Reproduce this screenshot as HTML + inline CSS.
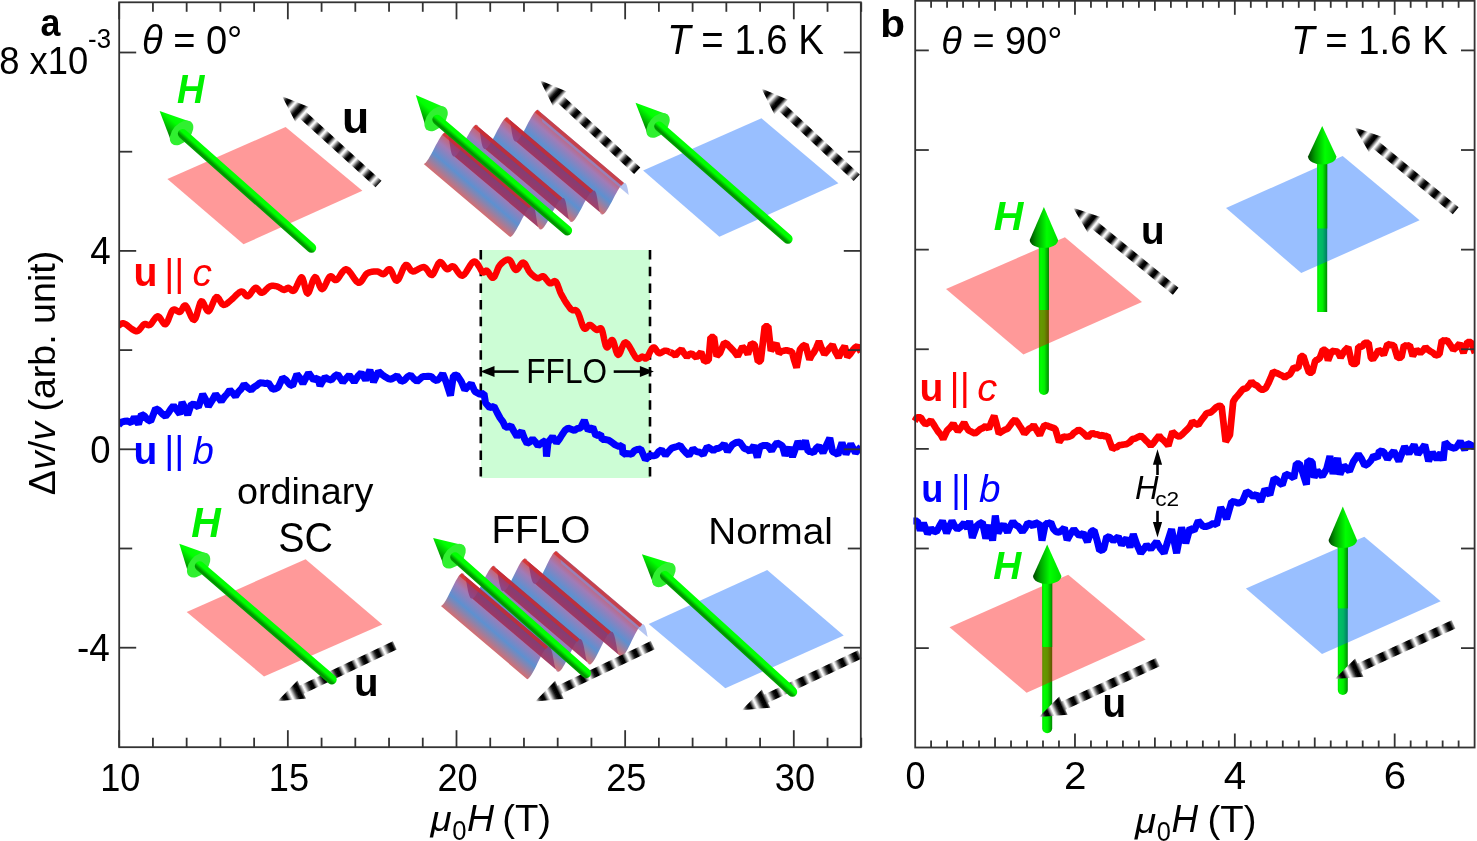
<!DOCTYPE html>
<html><head><meta charset="utf-8"><style>
html,body{margin:0;padding:0;background:#fff;overflow:hidden;}
svg{display:block;font-family:"Liberation Sans", sans-serif;will-change:transform;}
</style></head><body>
<svg width="1477" height="841" viewBox="0 0 1477 841" font-family='"Liberation Sans", sans-serif'><defs><filter id="soft" x="-10%" y="-10%" width="120%" height="120%"><feGaussianBlur stdDeviation="0.5"/></filter><filter id="soft2" x="-10%" y="-10%" width="120%" height="120%"><feGaussianBlur stdDeviation="0.9"/></filter><linearGradient id="lg1" gradientUnits="userSpaceOnUse" x1="282.10" y1="96.20" x2="292.30" y2="105.49" spreadMethod="repeat"><stop offset="0" stop-color="#fff"/><stop offset="0.08" stop-color="#eee"/><stop offset="0.3" stop-color="#555"/><stop offset="0.45" stop-color="#080808"/><stop offset="0.68" stop-color="#000"/><stop offset="0.88" stop-color="#aaa"/><stop offset="1" stop-color="#fff"/></linearGradient><linearGradient id="lg2" gradientUnits="userSpaceOnUse" x1="243.20" y1="194.01" x2="249.70" y2="186.69" spreadMethod="pad"><stop offset="0" stop-color="#00a800"/><stop offset="0.22" stop-color="#009000"/><stop offset="0.42" stop-color="#00c800"/><stop offset="0.6" stop-color="#00ff00"/><stop offset="1" stop-color="#00ff00"/></linearGradient><linearGradient id="lg3" gradientUnits="userSpaceOnUse" x1="171.98" y1="143.65" x2="191.22" y2="121.95" spreadMethod="pad"><stop offset="0" stop-color="#005a00"/><stop offset="0.3" stop-color="#00b000"/><stop offset="0.6" stop-color="#00ff00"/><stop offset="1" stop-color="#10ff10"/></linearGradient><linearGradient id="lg4" gradientUnits="userSpaceOnUse" x1="423.70" y1="163.90" x2="448.29" y2="134.85" spreadMethod="pad"><stop offset="0" stop-color="rgb(205,85,90)"/><stop offset="0.38" stop-color="rgb(65,125,200)"/><stop offset="0.7" stop-color="rgb(145,100,170)"/><stop offset="1" stop-color="rgb(210,60,60)"/></linearGradient><linearGradient id="lg5" gradientUnits="userSpaceOnUse" x1="454.50" y1="156.40" x2="479.09" y2="127.35" spreadMethod="pad"><stop offset="0" stop-color="rgb(205,85,90)"/><stop offset="0.38" stop-color="rgb(65,125,200)"/><stop offset="0.7" stop-color="rgb(145,100,170)"/><stop offset="1" stop-color="rgb(210,60,60)"/></linearGradient><linearGradient id="lg6" gradientUnits="userSpaceOnUse" x1="485.30" y1="148.90" x2="509.89" y2="119.85" spreadMethod="pad"><stop offset="0" stop-color="rgb(205,85,90)"/><stop offset="0.38" stop-color="rgb(65,125,200)"/><stop offset="0.7" stop-color="rgb(145,100,170)"/><stop offset="1" stop-color="rgb(210,60,60)"/></linearGradient><linearGradient id="lg7" gradientUnits="userSpaceOnUse" x1="516.10" y1="141.40" x2="540.69" y2="112.35" spreadMethod="pad"><stop offset="0" stop-color="rgb(205,85,90)"/><stop offset="0.38" stop-color="rgb(65,125,200)"/><stop offset="0.7" stop-color="rgb(145,100,170)"/><stop offset="1" stop-color="rgb(210,60,60)"/></linearGradient><linearGradient id="lg8" gradientUnits="userSpaceOnUse" x1="540.00" y1="80.30" x2="550.11" y2="89.70" spreadMethod="repeat"><stop offset="0" stop-color="#fff"/><stop offset="0.08" stop-color="#eee"/><stop offset="0.3" stop-color="#555"/><stop offset="0.45" stop-color="#080808"/><stop offset="0.68" stop-color="#000"/><stop offset="0.88" stop-color="#aaa"/><stop offset="1" stop-color="#fff"/></linearGradient><linearGradient id="lg9" gradientUnits="userSpaceOnUse" x1="498.47" y1="178.33" x2="504.83" y2="170.87" spreadMethod="pad"><stop offset="0" stop-color="#00a800"/><stop offset="0.22" stop-color="#009000"/><stop offset="0.42" stop-color="#00c800"/><stop offset="0.6" stop-color="#00ff00"/><stop offset="1" stop-color="#00ff00"/></linearGradient><linearGradient id="lg10" gradientUnits="userSpaceOnUse" x1="426.69" y1="129.73" x2="445.51" y2="107.67" spreadMethod="pad"><stop offset="0" stop-color="#005a00"/><stop offset="0.3" stop-color="#00b000"/><stop offset="0.6" stop-color="#00ff00"/><stop offset="1" stop-color="#10ff10"/></linearGradient><linearGradient id="lg11" gradientUnits="userSpaceOnUse" x1="761.50" y1="88.50" x2="771.57" y2="97.94" spreadMethod="repeat"><stop offset="0" stop-color="#fff"/><stop offset="0.08" stop-color="#eee"/><stop offset="0.3" stop-color="#555"/><stop offset="0.45" stop-color="#080808"/><stop offset="0.68" stop-color="#000"/><stop offset="0.88" stop-color="#aaa"/><stop offset="1" stop-color="#fff"/></linearGradient><linearGradient id="lg12" gradientUnits="userSpaceOnUse" x1="719.62" y1="185.84" x2="726.08" y2="178.46" spreadMethod="pad"><stop offset="0" stop-color="#00a800"/><stop offset="0.22" stop-color="#009000"/><stop offset="0.42" stop-color="#00c800"/><stop offset="0.6" stop-color="#00ff00"/><stop offset="1" stop-color="#00ff00"/></linearGradient><linearGradient id="lg13" gradientUnits="userSpaceOnUse" x1="648.45" y1="136.31" x2="667.55" y2="114.49" spreadMethod="pad"><stop offset="0" stop-color="#005a00"/><stop offset="0.3" stop-color="#00b000"/><stop offset="0.6" stop-color="#00ff00"/><stop offset="1" stop-color="#10ff10"/></linearGradient><linearGradient id="lg14" gradientUnits="userSpaceOnUse" x1="277.40" y1="701.20" x2="290.67" y2="694.88" spreadMethod="repeat"><stop offset="0" stop-color="#fff"/><stop offset="0.08" stop-color="#eee"/><stop offset="0.3" stop-color="#555"/><stop offset="0.45" stop-color="#080808"/><stop offset="0.68" stop-color="#000"/><stop offset="0.88" stop-color="#aaa"/><stop offset="1" stop-color="#fff"/></linearGradient><linearGradient id="lg15" gradientUnits="userSpaceOnUse" x1="262.01" y1="626.02" x2="268.39" y2="618.58" spreadMethod="pad"><stop offset="0" stop-color="#00a800"/><stop offset="0.22" stop-color="#009000"/><stop offset="0.42" stop-color="#00c800"/><stop offset="0.6" stop-color="#00ff00"/><stop offset="1" stop-color="#00ff00"/></linearGradient><linearGradient id="lg16" gradientUnits="userSpaceOnUse" x1="189.15" y1="576.10" x2="208.05" y2="554.10" spreadMethod="pad"><stop offset="0" stop-color="#005a00"/><stop offset="0.3" stop-color="#00b000"/><stop offset="0.6" stop-color="#00ff00"/><stop offset="1" stop-color="#10ff10"/></linearGradient><linearGradient id="lg17" gradientUnits="userSpaceOnUse" x1="440.90" y1="605.90" x2="465.84" y2="576.54" spreadMethod="pad"><stop offset="0" stop-color="rgb(205,85,90)"/><stop offset="0.38" stop-color="rgb(65,125,200)"/><stop offset="0.7" stop-color="rgb(145,100,170)"/><stop offset="1" stop-color="rgb(210,60,60)"/></linearGradient><linearGradient id="lg18" gradientUnits="userSpaceOnUse" x1="472.30" y1="598.50" x2="497.24" y2="569.14" spreadMethod="pad"><stop offset="0" stop-color="rgb(205,85,90)"/><stop offset="0.38" stop-color="rgb(65,125,200)"/><stop offset="0.7" stop-color="rgb(145,100,170)"/><stop offset="1" stop-color="rgb(210,60,60)"/></linearGradient><linearGradient id="lg19" gradientUnits="userSpaceOnUse" x1="503.70" y1="591.10" x2="528.64" y2="561.74" spreadMethod="pad"><stop offset="0" stop-color="rgb(205,85,90)"/><stop offset="0.38" stop-color="rgb(65,125,200)"/><stop offset="0.7" stop-color="rgb(145,100,170)"/><stop offset="1" stop-color="rgb(210,60,60)"/></linearGradient><linearGradient id="lg20" gradientUnits="userSpaceOnUse" x1="535.10" y1="583.70" x2="560.04" y2="554.34" spreadMethod="pad"><stop offset="0" stop-color="rgb(205,85,90)"/><stop offset="0.38" stop-color="rgb(65,125,200)"/><stop offset="0.7" stop-color="rgb(145,100,170)"/><stop offset="1" stop-color="rgb(210,60,60)"/></linearGradient><linearGradient id="lg21" gradientUnits="userSpaceOnUse" x1="535.10" y1="701.40" x2="548.37" y2="695.07" spreadMethod="repeat"><stop offset="0" stop-color="#fff"/><stop offset="0.08" stop-color="#eee"/><stop offset="0.3" stop-color="#555"/><stop offset="0.45" stop-color="#080808"/><stop offset="0.68" stop-color="#000"/><stop offset="0.88" stop-color="#aaa"/><stop offset="1" stop-color="#fff"/></linearGradient><linearGradient id="lg22" gradientUnits="userSpaceOnUse" x1="516.80" y1="618.37" x2="523.30" y2="611.03" spreadMethod="pad"><stop offset="0" stop-color="#00a800"/><stop offset="0.22" stop-color="#009000"/><stop offset="0.42" stop-color="#00c800"/><stop offset="0.6" stop-color="#00ff00"/><stop offset="1" stop-color="#00ff00"/></linearGradient><linearGradient id="lg23" gradientUnits="userSpaceOnUse" x1="444.39" y1="567.05" x2="463.61" y2="545.35" spreadMethod="pad"><stop offset="0" stop-color="#005a00"/><stop offset="0.3" stop-color="#00b000"/><stop offset="0.6" stop-color="#00ff00"/><stop offset="1" stop-color="#10ff10"/></linearGradient><linearGradient id="lg24" gradientUnits="userSpaceOnUse" x1="741.70" y1="710.20" x2="755.00" y2="703.93" spreadMethod="repeat"><stop offset="0" stop-color="#fff"/><stop offset="0.08" stop-color="#eee"/><stop offset="0.3" stop-color="#555"/><stop offset="0.45" stop-color="#080808"/><stop offset="0.68" stop-color="#000"/><stop offset="0.88" stop-color="#aaa"/><stop offset="1" stop-color="#fff"/></linearGradient><linearGradient id="lg25" gradientUnits="userSpaceOnUse" x1="724.75" y1="636.97" x2="731.35" y2="629.73" spreadMethod="pad"><stop offset="0" stop-color="#00a800"/><stop offset="0.22" stop-color="#009000"/><stop offset="0.42" stop-color="#00c800"/><stop offset="0.6" stop-color="#00ff00"/><stop offset="1" stop-color="#00ff00"/></linearGradient><linearGradient id="lg26" gradientUnits="userSpaceOnUse" x1="654.03" y1="585.52" x2="673.57" y2="564.08" spreadMethod="pad"><stop offset="0" stop-color="#005a00"/><stop offset="0.3" stop-color="#00b000"/><stop offset="0.6" stop-color="#00ff00"/><stop offset="1" stop-color="#10ff10"/></linearGradient><linearGradient id="lg27" gradientUnits="userSpaceOnUse" x1="1038.90" y1="0.00" x2="1048.90" y2="0.00" spreadMethod="pad"><stop offset="0" stop-color="#00e000"/><stop offset="0.2" stop-color="#00ff00"/><stop offset="0.55" stop-color="#00ee00"/><stop offset="1" stop-color="#008800"/></linearGradient><linearGradient id="lg28" gradientUnits="userSpaceOnUse" x1="1038.90" y1="0.00" x2="1048.90" y2="0.00" spreadMethod="pad"><stop offset="0" stop-color="#00e000"/><stop offset="0.2" stop-color="#00ff00"/><stop offset="0.55" stop-color="#00ee00"/><stop offset="1" stop-color="#008800"/></linearGradient><linearGradient id="lg29" gradientUnits="userSpaceOnUse" x1="1029.70" y1="0.00" x2="1058.10" y2="0.00" spreadMethod="pad"><stop offset="0" stop-color="#004400"/><stop offset="0.25" stop-color="#00a000"/><stop offset="0.6" stop-color="#00ff00"/><stop offset="1" stop-color="#00dd00"/></linearGradient><linearGradient id="lg30" gradientUnits="userSpaceOnUse" x1="1073.10" y1="207.80" x2="1083.81" y2="216.50" spreadMethod="repeat"><stop offset="0" stop-color="#fff"/><stop offset="0.08" stop-color="#eee"/><stop offset="0.3" stop-color="#555"/><stop offset="0.45" stop-color="#080808"/><stop offset="0.68" stop-color="#000"/><stop offset="0.88" stop-color="#aaa"/><stop offset="1" stop-color="#fff"/></linearGradient><linearGradient id="lg31" gradientUnits="userSpaceOnUse" x1="1317.20" y1="0.00" x2="1327.20" y2="0.00" spreadMethod="pad"><stop offset="0" stop-color="#00e000"/><stop offset="0.2" stop-color="#00ff00"/><stop offset="0.55" stop-color="#00ee00"/><stop offset="1" stop-color="#008800"/></linearGradient><linearGradient id="lg32" gradientUnits="userSpaceOnUse" x1="1317.20" y1="0.00" x2="1327.20" y2="0.00" spreadMethod="pad"><stop offset="0" stop-color="#00e000"/><stop offset="0.2" stop-color="#00ff00"/><stop offset="0.55" stop-color="#00ee00"/><stop offset="1" stop-color="#008800"/></linearGradient><linearGradient id="lg33" gradientUnits="userSpaceOnUse" x1="1308.00" y1="0.00" x2="1336.40" y2="0.00" spreadMethod="pad"><stop offset="0" stop-color="#004400"/><stop offset="0.25" stop-color="#00a000"/><stop offset="0.6" stop-color="#00ff00"/><stop offset="1" stop-color="#00dd00"/></linearGradient><linearGradient id="lg34" gradientUnits="userSpaceOnUse" x1="1354.50" y1="127.30" x2="1365.15" y2="136.08" spreadMethod="repeat"><stop offset="0" stop-color="#fff"/><stop offset="0.08" stop-color="#eee"/><stop offset="0.3" stop-color="#555"/><stop offset="0.45" stop-color="#080808"/><stop offset="0.68" stop-color="#000"/><stop offset="0.88" stop-color="#aaa"/><stop offset="1" stop-color="#fff"/></linearGradient><linearGradient id="lg35" gradientUnits="userSpaceOnUse" x1="1042.20" y1="0.00" x2="1052.20" y2="0.00" spreadMethod="pad"><stop offset="0" stop-color="#00e000"/><stop offset="0.2" stop-color="#00ff00"/><stop offset="0.55" stop-color="#00ee00"/><stop offset="1" stop-color="#008800"/></linearGradient><linearGradient id="lg36" gradientUnits="userSpaceOnUse" x1="1042.20" y1="0.00" x2="1052.20" y2="0.00" spreadMethod="pad"><stop offset="0" stop-color="#00e000"/><stop offset="0.2" stop-color="#00ff00"/><stop offset="0.55" stop-color="#00ee00"/><stop offset="1" stop-color="#008800"/></linearGradient><linearGradient id="lg37" gradientUnits="userSpaceOnUse" x1="1033.00" y1="0.00" x2="1061.40" y2="0.00" spreadMethod="pad"><stop offset="0" stop-color="#004400"/><stop offset="0.25" stop-color="#00a000"/><stop offset="0.6" stop-color="#00ff00"/><stop offset="1" stop-color="#00dd00"/></linearGradient><linearGradient id="lg38" gradientUnits="userSpaceOnUse" x1="1039.00" y1="716.90" x2="1052.35" y2="710.76" spreadMethod="repeat"><stop offset="0" stop-color="#fff"/><stop offset="0.08" stop-color="#eee"/><stop offset="0.3" stop-color="#555"/><stop offset="0.45" stop-color="#080808"/><stop offset="0.68" stop-color="#000"/><stop offset="0.88" stop-color="#aaa"/><stop offset="1" stop-color="#fff"/></linearGradient><linearGradient id="lg39" gradientUnits="userSpaceOnUse" x1="1337.80" y1="0.00" x2="1347.80" y2="0.00" spreadMethod="pad"><stop offset="0" stop-color="#00e000"/><stop offset="0.2" stop-color="#00ff00"/><stop offset="0.55" stop-color="#00ee00"/><stop offset="1" stop-color="#008800"/></linearGradient><linearGradient id="lg40" gradientUnits="userSpaceOnUse" x1="1337.80" y1="0.00" x2="1347.80" y2="0.00" spreadMethod="pad"><stop offset="0" stop-color="#00e000"/><stop offset="0.2" stop-color="#00ff00"/><stop offset="0.55" stop-color="#00ee00"/><stop offset="1" stop-color="#008800"/></linearGradient><linearGradient id="lg41" gradientUnits="userSpaceOnUse" x1="1328.60" y1="0.00" x2="1357.00" y2="0.00" spreadMethod="pad"><stop offset="0" stop-color="#004400"/><stop offset="0.25" stop-color="#00a000"/><stop offset="0.6" stop-color="#00ff00"/><stop offset="1" stop-color="#00dd00"/></linearGradient><linearGradient id="lg42" gradientUnits="userSpaceOnUse" x1="1334.80" y1="679.00" x2="1348.16" y2="672.86" spreadMethod="repeat"><stop offset="0" stop-color="#fff"/><stop offset="0.08" stop-color="#eee"/><stop offset="0.3" stop-color="#555"/><stop offset="0.45" stop-color="#080808"/><stop offset="0.68" stop-color="#000"/><stop offset="0.88" stop-color="#aaa"/><stop offset="1" stop-color="#fff"/></linearGradient></defs><rect x="0" y="0" width="1477" height="841" fill="#fff"/>
<rect x="481" y="250" width="169" height="228" fill="#ccfdd5"/>
<line x1="480.8" y1="250" x2="480.8" y2="478" stroke="#000" stroke-width="2.6" stroke-dasharray="9.5 7.2"/>
<line x1="650.0" y1="250" x2="650.0" y2="478" stroke="#000" stroke-width="2.6" stroke-dasharray="9.5 7.2"/>
<polygon points="167.4,178.9 285.6,127.1 362.4,190.8 243.5,244.3" fill="rgba(255,0,0,0.4)"/>
<polygon points="282.1,96.2 295.3,121.8 299.0,117.7 375.5,187.3 381.5,180.7 305.1,111.1 308.8,107.0" fill="url(#lg1)" filter="url(#soft)"/>
<polygon points="159.6,111.1 172.0,143.6 191.2,122.0" fill="url(#lg3)"/>
<ellipse cx="181.6" cy="132.8" rx="9.0" ry="14.5" transform="rotate(-138.4 181.6 132.8)" fill="#30f030"/>
<line x1="311.3" y1="247.9" x2="182.7" y2="133.8" stroke="url(#lg2)" stroke-width="9.8" stroke-linecap="round"/>
<polygon points="423.7,163.9 424.7,163.4 425.9,162.4 427.1,160.8 428.4,158.9 429.8,156.5 431.3,153.9 432.9,151.0 434.4,148.0 435.9,145.1 437.5,142.2 439.0,139.5 440.4,137.2 441.7,135.2 442.9,133.7 444.1,132.7 445.1,132.2 531.6,205.4 530.6,205.9 529.4,206.9 528.2,208.4 526.9,210.4 525.5,212.7 524.0,215.4 522.4,218.3 520.9,221.2 519.4,224.2 517.8,227.1 516.3,229.7 514.9,232.1 513.6,234.0 512.4,235.6 511.2,236.6 510.2,237.1" fill="url(#lg4)" fill-opacity="0.85"/>
<polygon points="454.5,156.4 455.5,155.9 456.7,154.9 457.9,153.3 459.2,151.4 460.6,149.0 462.1,146.4 463.7,143.5 465.2,140.5 466.7,137.6 468.3,134.7 469.8,132.0 471.2,129.7 472.5,127.7 473.7,126.2 474.9,125.2 475.9,124.7 562.4,197.9 561.4,198.4 560.2,199.4 559.0,200.9 557.7,202.9 556.3,205.2 554.8,207.9 553.2,210.8 551.7,213.7 550.2,216.7 548.6,219.6 547.1,222.2 545.7,224.6 544.4,226.5 543.2,228.1 542.0,229.1 541.0,229.6" fill="url(#lg5)" fill-opacity="0.85"/>
<polygon points="485.3,148.9 486.3,148.4 487.5,147.4 488.7,145.8 490.0,143.9 491.4,141.5 492.9,138.9 494.5,136.0 496.0,133.0 497.5,130.1 499.1,127.2 500.6,124.5 502.0,122.2 503.3,120.2 504.5,118.7 505.7,117.7 506.7,117.2 593.2,190.4 592.2,190.9 591.0,191.9 589.8,193.4 588.5,195.4 587.1,197.7 585.6,200.4 584.0,203.3 582.5,206.2 581.0,209.2 579.4,212.1 577.9,214.7 576.5,217.1 575.2,219.0 574.0,220.6 572.8,221.6 571.8,222.1" fill="url(#lg6)" fill-opacity="0.85"/>
<polygon points="516.1,141.4 517.1,140.9 518.3,139.9 519.5,138.3 520.8,136.4 522.2,134.0 523.7,131.4 525.3,128.5 526.8,125.5 528.3,122.6 529.9,119.7 531.4,117.0 532.8,114.7 534.1,112.7 535.3,111.2 536.5,110.2 537.5,109.7 624.0,182.9 623.0,183.4 621.8,184.4 620.6,185.9 619.3,187.9 617.9,190.2 616.4,192.9 614.8,195.8 613.3,198.7 611.8,201.7 610.2,204.6 608.7,207.2 607.3,209.6 606.0,211.5 604.8,213.1 603.6,214.1 602.6,214.6" fill="url(#lg7)" fill-opacity="0.85"/>
<polygon points="445.1,132.2 446.0,132.2 446.8,132.7 447.5,133.8 448.1,135.3 448.6,137.2 449.0,139.4 449.4,141.8 449.8,144.3 450.2,146.8 450.6,149.2 451.0,151.3 451.5,153.2 452.1,154.7 452.8,155.8 453.6,156.4 454.5,156.4 541.0,229.6 540.1,229.6 539.3,229.0 538.6,227.9 538.0,226.4 537.5,224.5 537.1,222.4 536.7,220.0 536.3,217.5 535.9,215.0 535.5,212.6 535.1,210.4 534.6,208.5 534.0,207.0 533.3,205.9 532.5,205.4 531.6,205.4" fill="rgb(125,25,95)" fill-opacity="0.55"/>
<polygon points="475.9,124.7 476.8,124.7 477.6,125.2 478.3,126.3 478.9,127.8 479.4,129.7 479.8,131.9 480.2,134.3 480.6,136.8 481.0,139.3 481.4,141.7 481.8,143.8 482.3,145.7 482.9,147.2 483.6,148.3 484.4,148.9 485.3,148.9 571.8,222.1 570.9,222.1 570.1,221.5 569.4,220.4 568.8,218.9 568.3,217.0 567.9,214.9 567.5,212.5 567.1,210.0 566.7,207.5 566.3,205.1 565.9,202.9 565.4,201.0 564.8,199.5 564.1,198.4 563.3,197.9 562.4,197.9" fill="rgb(125,25,95)" fill-opacity="0.55"/>
<polygon points="506.7,117.2 507.6,117.2 508.4,117.7 509.1,118.8 509.7,120.3 510.2,122.2 510.6,124.4 511.0,126.8 511.4,129.3 511.8,131.8 512.2,134.2 512.6,136.3 513.1,138.2 513.7,139.7 514.4,140.8 515.2,141.4 516.1,141.4 602.6,214.6 601.7,214.6 600.9,214.0 600.2,212.9 599.6,211.4 599.1,209.5 598.7,207.4 598.3,205.0 597.9,202.5 597.5,200.0 597.1,197.6 596.7,195.4 596.2,193.5 595.6,192.0 594.9,190.9 594.1,190.4 593.2,190.4" fill="rgb(125,25,95)" fill-opacity="0.55"/>
<polygon points="537.5,109.7 538.0,109.6 538.4,109.7 538.8,109.9 539.2,110.2 539.6,110.7 539.9,111.3 540.2,112.0 540.5,112.8 540.7,113.7 541.0,114.7 541.2,115.8 541.4,116.9 541.6,118.1 541.8,119.3 542.0,120.5 542.2,121.8 628.7,195.0 628.5,193.7 628.3,192.5 628.1,191.3 627.9,190.1 627.7,189.0 627.5,187.9 627.2,186.9 627.0,186.0 626.7,185.2 626.4,184.5 626.1,183.9 625.7,183.4 625.3,183.1 624.9,182.9 624.5,182.8 624.0,182.9" fill="rgb(120,150,230)" fill-opacity="0.55"/>
<line x1="443.8" y1="133.7" x2="530.3" y2="206.9" stroke="rgb(215,40,35)" stroke-opacity="0.7" stroke-width="3.6"/>
<line x1="474.6" y1="126.2" x2="561.1" y2="199.4" stroke="rgb(215,40,35)" stroke-opacity="0.7" stroke-width="3.6"/>
<line x1="505.4" y1="118.7" x2="591.9" y2="191.9" stroke="rgb(215,40,35)" stroke-opacity="0.7" stroke-width="3.6"/>
<line x1="536.2" y1="111.2" x2="622.7" y2="184.4" stroke="rgb(215,40,35)" stroke-opacity="0.7" stroke-width="3.6"/>
<polygon points="540.0,80.3 553.0,106.0 556.7,102.0 634.1,174.0 640.3,167.4 562.8,95.4 566.6,91.4" fill="url(#lg8)" filter="url(#soft)"/>
<polygon points="415.8,95.0 426.7,129.7 445.5,107.7" fill="url(#lg10)"/>
<ellipse cx="436.1" cy="118.7" rx="9.0" ry="14.5" transform="rotate(-139.5 436.1 118.7)" fill="#30f030"/>
<line x1="567.2" y1="230.5" x2="437.2" y2="119.7" stroke="url(#lg9)" stroke-width="9.8" stroke-linecap="round"/>
<polygon points="643.1,170.6 761.5,118.3 838.4,183.2 719.4,236.7" fill="rgba(0,95,255,0.4)"/>
<polygon points="761.5,88.5 774.4,114.3 778.1,110.2 853.6,181.0 859.8,174.4 784.3,103.7 788.0,99.7" fill="url(#lg11)" filter="url(#soft)"/>
<polygon points="635.5,102.8 648.5,136.3 667.5,114.5" fill="url(#lg13)"/>
<ellipse cx="658.0" cy="125.4" rx="9.0" ry="14.5" transform="rotate(-138.8 658.0 125.4)" fill="#30f030"/>
<line x1="787.7" y1="238.9" x2="659.1" y2="126.4" stroke="url(#lg12)" stroke-width="9.8" stroke-linecap="round"/>
<polygon points="186.7,612.0 305.6,559.2 382.3,624.5 264.0,676.5" fill="rgba(255,0,0,0.4)"/>
<polygon points="277.4,701.2 306.1,698.6 303.7,693.7 396.7,649.4 392.9,641.2 299.8,685.5 297.5,680.6" fill="url(#lg14)" filter="url(#soft)"/>
<polygon points="179.3,543.7 189.2,576.1 208.0,554.1" fill="url(#lg16)"/>
<ellipse cx="198.6" cy="565.1" rx="9.0" ry="14.5" transform="rotate(-139.3 198.6 565.1)" fill="#30f030"/>
<line x1="331.8" y1="679.5" x2="199.7" y2="566.1" stroke="url(#lg15)" stroke-width="9.8" stroke-linecap="round"/>
<polygon points="440.9,605.9 441.9,605.4 443.1,604.3 444.3,602.8 445.6,600.7 447.0,598.3 448.4,595.6 449.9,592.6 451.4,589.5 452.9,586.5 454.4,583.5 455.8,580.8 457.2,578.4 458.5,576.3 459.7,574.8 460.9,573.7 461.9,573.2 548.2,646.5 547.2,647.0 546.0,648.1 544.8,649.6 543.5,651.7 542.1,654.1 540.7,656.8 539.2,659.8 537.7,662.8 536.2,665.9 534.7,668.9 533.3,671.6 531.9,674.0 530.6,676.1 529.4,677.6 528.2,678.7 527.2,679.2" fill="url(#lg17)" fill-opacity="0.85"/>
<polygon points="472.3,598.5 473.3,598.0 474.5,596.9 475.7,595.4 477.0,593.3 478.4,590.9 479.8,588.2 481.3,585.2 482.8,582.1 484.3,579.1 485.8,576.1 487.2,573.4 488.6,571.0 489.9,568.9 491.1,567.4 492.3,566.3 493.3,565.8 579.6,639.1 578.6,639.6 577.4,640.7 576.2,642.2 574.9,644.3 573.5,646.7 572.1,649.4 570.6,652.4 569.1,655.4 567.6,658.5 566.1,661.5 564.7,664.2 563.3,666.6 562.0,668.7 560.8,670.2 559.6,671.3 558.6,671.8" fill="url(#lg18)" fill-opacity="0.85"/>
<polygon points="503.7,591.1 504.7,590.6 505.9,589.5 507.1,588.0 508.4,585.9 509.8,583.5 511.2,580.8 512.7,577.8 514.2,574.8 515.7,571.7 517.2,568.7 518.6,566.0 520.0,563.6 521.3,561.5 522.5,560.0 523.7,558.9 524.7,558.4 611.0,631.7 610.0,632.2 608.8,633.3 607.6,634.8 606.3,636.9 604.9,639.3 603.5,642.0 602.0,645.0 600.5,648.0 599.0,651.1 597.5,654.1 596.1,656.8 594.7,659.2 593.4,661.3 592.2,662.8 591.0,663.9 590.0,664.4" fill="url(#lg19)" fill-opacity="0.85"/>
<polygon points="535.1,583.7 536.1,583.2 537.3,582.1 538.5,580.6 539.8,578.5 541.2,576.1 542.6,573.4 544.1,570.4 545.6,567.4 547.1,564.3 548.6,561.3 550.0,558.6 551.4,556.2 552.7,554.1 553.9,552.6 555.1,551.5 556.1,551.0 642.4,624.3 641.4,624.8 640.2,625.9 639.0,627.4 637.7,629.5 636.3,631.9 634.9,634.6 633.4,637.6 631.9,640.6 630.4,643.7 628.9,646.7 627.5,649.4 626.1,651.8 624.8,653.9 623.6,655.4 622.4,656.5 621.4,657.0" fill="url(#lg20)" fill-opacity="0.85"/>
<polygon points="461.9,573.2 462.8,573.2 463.7,573.8 464.4,574.9 465.0,576.5 465.6,578.5 466.2,580.8 466.6,583.3 467.1,585.9 467.6,588.4 468.0,590.9 468.6,593.2 469.2,595.2 469.8,596.8 470.5,597.9 471.4,598.5 472.3,598.5 558.6,671.8 557.7,671.8 556.8,671.2 556.1,670.1 555.5,668.5 554.9,666.5 554.3,664.2 553.9,661.7 553.4,659.1 552.9,656.6 552.5,654.1 551.9,651.8 551.3,649.8 550.7,648.2 550.0,647.1 549.1,646.5 548.2,646.5" fill="rgb(125,25,95)" fill-opacity="0.55"/>
<polygon points="493.3,565.8 494.2,565.8 495.1,566.4 495.8,567.5 496.4,569.1 497.0,571.1 497.6,573.4 498.0,575.9 498.5,578.4 499.0,581.0 499.4,583.5 500.0,585.8 500.6,587.8 501.2,589.4 501.9,590.5 502.8,591.1 503.7,591.1 590.0,664.4 589.1,664.4 588.2,663.8 587.5,662.7 586.9,661.1 586.3,659.1 585.7,656.8 585.3,654.3 584.8,651.7 584.3,649.2 583.9,646.7 583.3,644.4 582.7,642.4 582.1,640.8 581.4,639.7 580.5,639.1 579.6,639.1" fill="rgb(125,25,95)" fill-opacity="0.55"/>
<polygon points="524.7,558.4 525.6,558.4 526.5,559.0 527.2,560.1 527.8,561.7 528.4,563.7 529.0,566.0 529.4,568.5 529.9,571.0 530.4,573.6 530.8,576.1 531.4,578.4 532.0,580.4 532.6,582.0 533.3,583.1 534.2,583.7 535.1,583.7 621.4,657.0 620.5,657.0 619.6,656.4 618.9,655.3 618.3,653.7 617.7,651.7 617.1,649.4 616.7,646.9 616.2,644.3 615.7,641.8 615.3,639.3 614.7,637.0 614.1,635.0 613.5,633.4 612.8,632.3 611.9,631.7 611.0,631.7" fill="rgb(125,25,95)" fill-opacity="0.55"/>
<polygon points="556.1,551.0 556.6,551.0 557.0,551.0 557.5,551.3 557.9,551.6 558.2,552.1 558.6,552.7 558.9,553.5 559.2,554.3 559.5,555.3 559.8,556.3 560.1,557.4 560.4,558.6 560.6,559.8 560.8,561.1 561.1,562.3 561.3,563.6 647.6,636.9 647.4,635.6 647.1,634.4 646.9,633.1 646.7,631.9 646.4,630.7 646.1,629.6 645.8,628.6 645.5,627.6 645.2,626.8 644.9,626.0 644.5,625.4 644.2,624.9 643.8,624.6 643.3,624.3 642.9,624.3 642.4,624.3" fill="rgb(120,150,230)" fill-opacity="0.55"/>
<line x1="460.6" y1="574.7" x2="546.9" y2="648.0" stroke="rgb(215,40,35)" stroke-opacity="0.7" stroke-width="3.6"/>
<line x1="492.0" y1="567.3" x2="578.3" y2="640.6" stroke="rgb(215,40,35)" stroke-opacity="0.7" stroke-width="3.6"/>
<line x1="523.4" y1="559.9" x2="609.7" y2="633.2" stroke="rgb(215,40,35)" stroke-opacity="0.7" stroke-width="3.6"/>
<line x1="554.8" y1="552.5" x2="641.1" y2="625.8" stroke="rgb(215,40,35)" stroke-opacity="0.7" stroke-width="3.6"/>
<polygon points="535.1,701.4 563.8,698.8 561.4,693.8 654.7,649.3 650.9,641.1 557.5,685.7 555.2,680.7" fill="url(#lg21)" filter="url(#soft)"/>
<polygon points="433.1,537.9 444.4,567.1 463.6,545.3" fill="url(#lg23)"/>
<ellipse cx="454.0" cy="556.2" rx="9.0" ry="14.5" transform="rotate(-138.5 454.0 556.2)" fill="#30f030"/>
<line x1="586.1" y1="673.2" x2="455.1" y2="557.2" stroke="url(#lg22)" stroke-width="9.8" stroke-linecap="round"/>
<polygon points="648.7,624.0 767.2,570.1 843.7,635.5 725.3,688.3" fill="rgba(0,95,255,0.4)"/>
<polygon points="741.7,710.2 770.4,707.7 768.0,702.8 861.9,658.5 858.1,650.3 764.2,694.6 761.9,689.6" fill="url(#lg24)" filter="url(#soft)"/>
<polygon points="641.9,554.3 654.0,585.5 673.6,564.1" fill="url(#lg26)"/>
<ellipse cx="663.8" cy="574.8" rx="9.0" ry="14.5" transform="rotate(-137.7 663.8 574.8)" fill="#30f030"/>
<line x1="792.3" y1="691.9" x2="664.9" y2="575.8" stroke="url(#lg25)" stroke-width="9.8" stroke-linecap="round"/>
<line x1="1043.9" y1="240.0" x2="1043.9" y2="390.0" stroke="url(#lg27)" stroke-width="10.0" stroke-linecap="round"/>
<polygon points="946.0,289.0 1064.9,237.3 1142.0,302.1 1023.4,354.6" fill="rgba(255,0,0,0.4)"/>
<line x1="1043.9" y1="240.0" x2="1043.9" y2="310.0" stroke="url(#lg28)" stroke-width="10.0"/>
<path d="M1043.9,207.0 L1058.1,240.0 A14.2,8.0 0 0 1 1029.7,240.0 Z" fill="url(#lg29)"/>
<polygon points="1073.1,207.8 1087.7,232.6 1091.2,228.3 1172.9,294.7 1178.5,287.7 1096.9,221.3 1100.4,217.1" fill="url(#lg30)" filter="url(#soft)"/>
<line x1="1322.2" y1="156.5" x2="1322.2" y2="312.0" stroke="url(#lg31)" stroke-width="10.0" stroke-linecap="butt"/>
<polygon points="1226.0,208.0 1342.7,156.1 1419.6,220.3 1301.2,273.1" fill="rgba(0,95,255,0.4)"/>
<line x1="1322.2" y1="156.5" x2="1322.2" y2="228.5" stroke="url(#lg32)" stroke-width="10.0"/>
<path d="M1322.2,126.0 L1336.4,156.5 A14.2,8.0 0 0 1 1308.0,156.5 Z" fill="url(#lg33)"/>
<polygon points="1354.5,127.3 1369.0,152.2 1372.5,147.9 1452.8,214.2 1458.6,207.2 1378.2,141.0 1381.7,136.8" fill="url(#lg34)" filter="url(#soft)"/>
<line x1="1047.2" y1="576.0" x2="1047.2" y2="728.3" stroke="url(#lg35)" stroke-width="10.0" stroke-linecap="round"/>
<polygon points="949.5,627.2 1068.2,574.7 1145.6,639.5 1026.6,692.8" fill="rgba(255,0,0,0.4)"/>
<line x1="1047.2" y1="576.0" x2="1047.2" y2="647.0" stroke="url(#lg36)" stroke-width="10.0"/>
<path d="M1047.2,544.6 L1061.4,576.0 A14.2,8.0 0 0 1 1033.0,576.0 Z" fill="url(#lg37)"/>
<polygon points="1039.0,716.9 1067.7,714.7 1065.4,709.7 1159.8,666.3 1156.0,658.1 1061.6,701.5 1059.3,696.5" fill="url(#lg38)" filter="url(#soft)"/>
<line x1="1342.8" y1="540.0" x2="1342.8" y2="690.0" stroke="url(#lg39)" stroke-width="10.0" stroke-linecap="round"/>
<polygon points="1245.9,588.5 1364.3,536.8 1440.7,601.3 1322.0,654.0" fill="rgba(0,95,255,0.4)"/>
<line x1="1342.8" y1="540.0" x2="1342.8" y2="608.4" stroke="url(#lg40)" stroke-width="10.0"/>
<path d="M1342.8,506.6 L1357.0,540.0 A14.2,8.0 0 0 1 1328.6,540.0 Z" fill="url(#lg41)"/>
<polygon points="1334.8,679.0 1363.5,676.8 1361.2,671.8 1455.5,628.5 1451.7,620.3 1357.5,663.6 1355.2,658.6" fill="url(#lg42)" filter="url(#soft)"/>
<clipPath id="cpa"><rect x="119" y="0" width="742" height="760"/></clipPath>
<clipPath id="cpb"><rect x="912" y="0" width="563" height="760"/></clipPath>
<g clip-path="url(#cpa)">
<polyline points="118.6,325.6 119.1,325.3 119.8,324.7 120.7,324.1 121.7,323.5 122.9,323.3 124.3,323.5 126.0,324.4 128.0,325.9 130.2,327.7 132.4,329.4 134.6,330.7 136.4,331.3 138.0,330.9 139.4,329.7 140.7,328.2 141.9,326.5 143.1,325.1 144.2,324.2 145.3,324.0 146.2,324.2 147.1,324.6 148.0,325.1 148.9,325.2 150.0,324.9 151.2,323.8 152.5,322.1 153.8,320.1 155.1,318.3 156.5,316.9 157.8,316.3 159.1,316.9 160.4,318.5 161.7,320.6 163.0,322.6 164.3,324.0 165.6,324.2 166.8,322.9 168.0,320.5 169.2,317.4 170.4,314.3 171.6,311.6 172.8,309.9 174.0,309.4 175.2,309.7 176.4,310.5 177.6,311.3 178.8,312.0 179.9,312.0 180.9,311.2 181.8,309.7 182.7,308.0 183.5,306.5 184.5,305.6 185.6,305.6 186.9,307.2 188.3,310.1 189.8,313.5 191.3,316.8 192.8,319.2 194.2,319.9 195.5,318.4 196.7,315.1 197.8,310.9 199.0,306.6 200.1,303.1 201.3,301.3 202.5,301.6 203.6,303.4 204.8,306.0 206.0,308.7 207.2,310.7 208.4,311.3 209.7,310.1 211.0,307.5 212.4,304.3 213.7,301.1 215.0,298.5 216.3,297.1 217.5,297.3 218.7,298.5 219.8,300.4 221.0,302.4 222.2,304.1 223.4,304.9 224.6,304.8 225.9,304.3 227.2,303.4 228.5,302.3 229.9,301.1 231.3,299.9 232.9,298.5 234.6,296.8 236.3,295.0 238.1,293.4 239.7,292.1 241.2,291.4 242.5,291.6 243.6,292.5 244.6,293.8 245.6,295.2 246.6,296.1 247.7,296.3 248.9,295.5 250.3,294.0 251.6,292.0 253.0,290.1 254.3,288.6 255.5,287.8 256.6,288.0 257.7,288.9 258.7,290.2 259.7,291.5 260.8,292.5 261.9,292.8 263.1,292.3 264.5,291.3 265.8,289.9 267.2,288.5 268.5,287.2 269.8,286.4 271.0,286.0 272.2,285.8 273.4,285.8 274.6,285.9 275.7,286.1 276.9,286.4 278.1,286.8 279.4,287.5 280.6,288.3 281.8,289.0 283.0,289.6 284.0,289.9 284.9,289.8 285.6,289.4 286.2,288.9 286.9,288.3 287.5,287.9 288.3,287.8 289.2,288.2 290.1,288.9 291.0,289.8 292.0,290.6 293.0,290.9 294.0,290.6 295.1,289.3 296.2,287.2 297.4,284.7 298.5,282.1 299.6,279.9 300.4,278.5 301.0,277.7 301.4,277.3 301.7,277.2 302.0,277.5 302.4,278.1 302.9,279.2 303.6,281.2 304.3,284.1 305.1,287.4 305.9,290.5 306.8,292.7 307.8,293.5 308.9,292.2 310.0,289.3 311.3,285.4 312.5,281.6 313.8,278.5 315.0,277.1 316.2,277.8 317.3,279.9 318.5,282.9 319.7,286.0 320.9,288.3 322.1,289.2 323.4,288.3 324.7,286.2 326.1,283.3 327.4,280.4 328.8,277.9 330.0,276.4 331.1,276.2 332.1,276.9 333.1,278.1 334.1,279.3 335.1,280.0 336.4,280.0 337.8,278.8 339.4,276.6 341.0,274.0 342.8,271.5 344.6,269.8 346.4,269.2 348.3,270.3 350.4,272.8 352.5,275.9 354.7,279.1 356.7,281.6 358.5,282.8 360.1,282.5 361.5,281.1 362.9,279.1 364.2,276.9 365.5,274.9 367.0,273.5 368.6,272.7 370.4,272.1 372.1,271.7 373.9,271.5 375.5,271.4 377.0,271.4 378.3,271.7 379.4,272.3 380.5,273.0 381.5,273.7 382.5,274.1 383.5,274.2 384.6,273.6 385.6,272.5 386.7,271.2 387.7,269.9 388.8,269.2 389.9,269.2 391.0,270.5 392.2,272.8 393.3,275.6 394.5,278.3 395.7,280.2 397.0,280.7 398.4,279.4 399.8,276.7 401.3,273.2 402.8,269.6 404.2,266.7 405.6,265.0 406.8,264.9 407.9,265.9 409.0,267.5 410.1,269.2 411.3,270.7 412.7,271.4 414.4,271.2 416.3,270.3 418.3,269.2 420.4,268.0 422.4,267.2 424.1,267.1 425.6,268.0 427.0,269.6 428.3,271.6 429.5,273.5 430.7,274.7 432.0,275.0 433.3,273.8 434.6,271.5 435.9,268.6 437.3,265.7 438.5,263.3 439.8,262.1 441.0,262.2 442.2,263.4 443.4,265.0 444.6,266.8 445.8,268.4 446.9,269.2 448.0,269.2 449.0,268.6 450.0,267.7 451.1,266.8 452.2,266.3 453.4,266.4 454.8,267.5 456.2,269.5 457.7,271.8 459.3,273.9 460.9,275.4 462.6,275.7 464.4,274.4 466.3,271.8 468.3,268.5 470.3,265.2 472.2,262.6 474.0,261.4 475.6,261.9 477.2,263.6 478.7,265.9 480.2,268.5 481.4,270.7 482.6,272.1 483.5,272.5 484.3,272.2 484.9,271.6 485.5,271.0 486.1,270.6 486.9,270.7 487.8,271.6 488.9,273.2 489.9,275.0 491.1,276.6 492.2,277.7 493.3,277.8 494.4,276.7 495.4,274.7 496.5,272.2 497.6,269.4 498.7,266.9 500.0,265.0 501.4,263.5 502.9,262.1 504.6,260.9 506.2,260.0 507.7,259.6 509.1,259.7 510.3,260.7 511.5,262.6 512.5,265.0 513.6,267.3 514.7,269.1 515.8,270.0 517.0,269.6 518.3,268.2 519.5,266.3 520.8,264.4 522.1,262.9 523.3,262.5 524.5,263.2 525.6,264.7 526.6,266.7 527.7,268.8 528.8,270.9 530.0,272.5 531.2,273.8 532.5,275.0 533.8,276.1 535.1,277.1 536.3,277.8 537.5,278.3 538.6,278.3 539.5,277.9 540.5,277.2 541.4,276.6 542.3,276.2 543.3,276.3 544.4,277.0 545.5,278.3 546.6,279.8 547.8,281.3 548.9,282.5 550.0,283.3 551.0,283.3 552.0,282.8 553.0,282.1 553.9,281.4 554.8,281.1 555.8,281.6 556.7,283.0 557.6,284.9 558.5,287.3 559.4,289.9 560.4,292.6 561.6,295.0 563.0,297.4 564.5,300.1 566.1,302.7 567.8,305.2 569.4,307.4 570.8,309.1 572.0,310.0 573.2,310.3 574.3,310.2 575.3,310.1 576.3,310.5 577.4,311.6 578.5,313.8 579.7,316.9 580.8,320.3 581.9,323.7 583.0,326.5 584.1,328.3 585.1,328.8 586.1,328.3 587.0,327.3 587.9,326.2 588.9,325.2 589.9,324.9 591.0,325.3 592.1,326.2 593.3,327.2 594.5,328.4 595.6,329.3 596.6,329.9 597.5,329.9 598.4,329.4 599.2,328.7 600.0,328.2 600.8,328.2 601.6,329.1 602.4,331.3 603.2,334.7 604.0,338.7 604.9,342.5 605.7,345.6 606.6,347.4 607.5,347.4 608.5,346.0 609.5,343.9 610.4,341.7 611.4,340.1 612.4,339.9 613.3,341.4 614.3,344.3 615.2,347.7 616.1,351.1 617.1,353.7 618.2,354.9 619.3,354.1 620.5,351.7 621.6,348.6 622.9,345.5 624.2,343.2 625.7,342.4 627.4,343.6 629.2,346.2 631.2,349.6 633.1,353.2 634.9,356.2 636.5,358.2 637.8,358.9 638.9,358.8 639.9,358.3 640.7,357.5 641.6,356.9 642.4,356.6 643.2,356.8 643.8,357.4 644.4,358.0 645.0,358.5 645.7,358.6 646.5,358.2 647.5,356.9 648.6,354.9 649.7,352.5 650.9,350.2 652.1,348.4 653.2,347.4 654.2,347.5 655.2,348.4 656.2,349.8 657.1,351.3 658.0,352.5 659.0,353.2 660.0,353.2 661.0,352.8 661.9,352.2 662.9,351.6 663.9,351.0 664.8,350.7 665.8,350.7 666.8,350.9 667.8,351.2 668.7,351.6 669.4,351.9 670.0,352.1" fill="none" stroke="#ff0000" stroke-width="6.5" stroke-linejoin="round" stroke-miterlimit="2" stroke-linecap="butt"/>
<polyline points="670.0,352.1 672.7,353.4 675.4,355.5 678.5,351.8 681.5,349.4 684.2,353.5 686.9,356.9 689.3,354.3 691.7,353.5 694.0,355.6 696.4,357.5 698.8,354.5 701.1,352.1 704.5,361.6 708.6,360.3 710.6,337.2 714.0,337.2 716.7,356.2 720.1,352.8 724.2,342.7 726.9,343.8 729.6,346.7 733.6,350.8 737.7,356.2 740.0,351.5 742.4,346.7 745.1,349.5 747.9,354.2 751.2,343.3 754.6,344.7 758.0,361.6 760.7,360.9 764.8,326.4 768.2,326.4 770.9,350.8 773.6,346.9 776.3,343.3 779.0,353.5 781.4,351.3 783.7,350.8 786.4,350.2 789.2,351.1 791.9,351.5 794.2,360.3 796.6,367.7 800.0,349.4 802.7,346.3 805.4,344.7 809.5,359.6 811.7,355.2 814.0,352.2 816.2,348.1 819.0,341.3 821.7,348.6 824.4,354.2 827.1,351.2 829.8,347.7 832.5,344.7 835.5,352.1 838.6,357.5 841.7,350.8 844.7,346.0 847.4,356.9 850.1,354.2 852.8,350.1 855.1,347.6 857.5,346.0 861.0,352.1" fill="none" stroke="#ff0000" stroke-width="6.8" stroke-linejoin="bevel" stroke-miterlimit="2" stroke-linecap="butt"/>
<polyline points="118.6,424.9 121.4,422.2 124.3,421.3 127.8,421.1 131.4,422.8 134.3,417.0 138.5,424.2 141.4,414.2 144.5,416.1 147.6,419.7 150.7,421.3 155.6,408.5 158.9,410.3 162.3,413.9 165.6,416.3 168.2,413.1 170.9,408.9 173.5,405.6 176.7,410.0 179.9,414.2 182.0,402.1 184.8,407.5 187.7,414.9 191.3,404.2 194.9,404.6 198.4,407.1 202.7,394.2 205.6,399.5 208.4,406.3 212.0,400.7 215.6,394.2 218.4,397.6 221.3,401.4 224.1,397.2 227.0,394.0 229.8,390.0 232.7,393.1 235.5,396.4 238.4,391.9 241.2,389.0 244.1,384.2 247.6,387.6 251.2,390.0 254.1,387.0 256.9,385.4 259.8,382.8 262.6,382.9 265.5,383.7 268.3,382.8 272.6,389.2 275.5,388.7 278.3,387.1 282.6,377.8 285.9,379.9 289.3,384.2 292.6,385.7 296.9,374.3 299.9,378.0 302.9,383.5 305.8,378.0 308.6,372.8 313.6,380.0 317.8,377.8 320.0,385.7 325.0,377.1 328.2,379.2 331.4,380.0 334.6,376.3 337.8,374.3 342.8,382.1 346.0,378.5 349.2,375.0 354.2,382.1 357.8,376.3 361.3,372.8 365.6,380.0 369.9,370.0 373.5,382.1 378.5,371.4 382.1,374.7 385.6,377.1 388.5,378.8 391.3,379.2 394.1,377.6 397.0,375.7 401.3,381.4 404.4,380.2 407.5,376.7 410.6,375.0 413.8,378.7 417.0,381.4 419.9,379.1 422.7,376.4 425.5,376.6 428.4,376.3 431.2,376.4 434.0,379.4 436.9,380.7 439.8,378.2 442.7,373.5 446.2,382.1 450.5,395.6 453.4,375.7 456.9,375.0 461.2,381.4 464.8,389.9 468.0,386.6 471.2,383.5 474.8,391.4 479.7,394.2 484.0,393.5 485.5,402.8 489.7,407.8 494.0,406.3 497.1,412.5 500.1,418.0 502.8,421.6 505.5,427.3 508.2,427.0 510.9,425.7 514.0,431.5 517.1,436.6 521.7,431.1 524.4,438.5 527.1,443.5 529.9,442.0 532.6,438.9 535.3,441.8 538.0,445.8 541.9,442.8 545.7,440.4 546.5,456.6 548.0,442.7 552.6,436.6 556.5,442.7 559.2,439.3 561.9,435.0 565.0,430.4 568.1,428.1 571.2,429.2 574.3,430.4 577.4,428.5 580.5,428.1 584.3,420.3 588.2,430.4 592.8,427.3 595.9,435.8 600.6,434.2 602.1,439.6 605.2,439.5 608.3,440.1 611.4,442.0 615.2,444.9 619.1,446.6 622.2,445.1 623.0,454.3 625.8,453.4 628.7,453.7 631.5,454.3 634.6,450.5 637.7,449.4 640.7,448.9 645.4,459.7 650.0,455.1 653.1,456.0 656.2,455.1 658.9,451.4 661.6,449.7 665.5,455.1 668.6,451.5 671.7,448.1 674.1,447.4 677.2,446.5 680.2,445.4 683.1,449.7 686.1,452.9 689.0,455.5 693.0,448.7 696.4,451.6 699.8,452.2 703.2,454.8 707.2,446.7 710.2,448.5 713.3,450.8 716.0,448.8 718.8,448.3 721.5,446.8 724.2,444.0 727.5,451.5 732.3,444.7 736.0,442.5 739.7,442.0 744.5,448.7 747.2,449.3 749.9,451.5 754.0,445.4 757.3,457.5 760.0,446.7 763.8,445.4 767.5,445.4 771.6,450.8 774.3,446.1 777.0,442.7 779.7,444.3 782.4,446.0 785.1,455.5 789.2,447.4 792.5,456.9 795.2,449.3 798.0,441.3 802.0,448.7 805.4,440.6 808.1,451.5 810.8,451.6 813.5,452.8 816.2,448.2 819.0,446.0 823.0,452.8 826.4,445.2 829.8,437.9 832.5,451.5 835.2,452.8 837.9,454.8 842.0,442.7 846.0,454.2 850.8,444.0 855.5,452.8 858.2,449.9 861.0,446.7" fill="none" stroke="#0000ff" stroke-width="7.0" stroke-linejoin="bevel" stroke-miterlimit="2" stroke-linecap="butt"/>
</g><g clip-path="url(#cpb)">
<polyline points="914.6,421.2 917.0,417.3 920.8,417.3 923.1,421.5 925.5,424.3 928.2,422.7 930.9,420.4 933.4,424.1 935.8,428.0 938.3,431.8 940.7,434.6 943.2,439.0 947.1,430.5 950.2,427.6 953.3,423.5 955.6,427.8 957.9,431.2 961.0,427.5 964.1,422.7 966.4,427.1 968.7,430.5 971.8,431.9 974.9,433.6 977.6,431.5 980.3,429.1 983.0,428.0 985.7,425.8 988.8,428.9 991.5,421.6 994.2,415.8 996.5,424.0 998.9,433.6 1001.7,431.6 1004.6,429.9 1007.4,428.9 1010.0,425.5 1012.5,422.0 1015.1,419.6 1017.4,422.3 1019.8,426.0 1022.1,429.5 1024.4,433.6 1026.7,431.3 1029.0,428.6 1031.3,427.8 1033.6,425.1 1036.7,430.3 1039.8,435.1 1042.2,429.5 1044.5,425.1 1047.2,425.7 1049.9,426.8 1052.6,427.7 1055.3,428.9 1059.2,442.1 1061.5,438.7 1063.8,436.6 1066.5,437.2 1069.2,436.6 1071.5,435.7 1073.8,433.1 1076.2,431.4 1078.5,429.7 1080.8,431.0 1083.1,432.9 1085.4,435.2 1087.7,437.4 1090.1,434.7 1092.4,432.8 1095.0,434.4 1097.5,434.3 1100.1,435.9 1102.6,435.1 1105.0,436.5 1107.5,435.7 1110.0,442.4 1112.5,449.1 1114.8,447.5 1117.0,447.1 1119.3,445.2 1121.6,444.9 1124.1,444.5 1126.6,444.1 1129.5,442.4 1132.5,439.1 1135.3,438.5 1138.0,437.1 1140.8,435.7 1143.3,437.8 1145.8,440.5 1148.3,442.7 1150.8,445.7 1153.6,442.8 1156.3,439.1 1159.1,435.7 1161.4,438.6 1163.7,440.4 1166.0,442.8 1168.3,445.7 1172.4,431.6 1174.6,433.8 1176.9,435.7 1179.1,436.6 1181.8,434.7 1184.5,432.1 1187.2,429.6 1189.9,426.6 1192.4,421.6 1195.3,423.6 1198.3,424.9 1201.1,420.6 1203.8,417.2 1206.6,413.3 1210.7,412.4 1213.5,410.0 1216.3,407.2 1219.1,405.8 1221.6,406.6 1225.7,441.6 1229.9,434.9 1233.2,401.6 1235.7,397.7 1238.2,395.0 1240.7,391.8 1243.2,389.1 1246.5,388.3 1249.0,385.3 1251.5,381.6 1254.2,384.4 1257.0,385.7 1259.7,388.5 1262.4,389.9 1265.7,388.3 1268.2,383.5 1270.7,377.9 1273.2,371.6 1275.5,372.6 1277.8,373.5 1280.2,374.7 1282.5,375.8 1284.8,377.5 1287.4,375.5 1290.0,374.4 1293.8,367.5 1296.0,368.0 1298.2,368.1 1300.8,356.1 1303.3,356.1 1306.2,364.9 1309.0,372.5 1312.2,372.5 1315.3,360.5 1317.5,359.8 1319.8,358.0 1322.9,349.8 1325.5,349.8 1328.0,360.5 1331.8,351.0 1334.7,351.3 1337.5,351.7 1340.6,357.4 1344.4,351.0 1348.2,347.2 1352.0,363.7 1354.2,363.9 1356.5,363.7 1358.4,346.6 1362.2,346.6 1364.7,342.8 1368.5,342.8 1371.0,358.0 1372.9,359.3 1375.8,355.0 1378.6,349.8 1381.2,351.6 1383.7,354.8 1387.5,344.1 1390.7,345.0 1393.8,345.3 1397.6,358.0 1401.4,357.4 1404.0,345.3 1406.8,346.0 1409.7,345.3 1412.8,356.1 1416.6,349.8 1420.4,352.9 1423.0,350.5 1425.5,347.2 1428.0,349.7 1430.5,351.3 1433.1,352.9 1435.6,355.5 1439.4,354.2 1441.9,340.3 1444.5,340.8 1447.0,340.3 1450.2,344.8 1453.3,349.8 1456.5,347.1 1459.7,343.4 1463.5,352.9 1467.3,342.2 1471.1,342.2 1475.0,353.0" fill="none" stroke="#ff0000" stroke-width="6.8" stroke-linejoin="bevel" stroke-miterlimit="2" stroke-linecap="butt"/>
<polyline points="913.4,520.9 917.4,520.9 920.2,530.4 923.5,523.0 927.6,533.8 931.0,528.4 933.7,531.2 936.4,531.8 939.5,526.1 942.5,520.9 946.6,533.1 949.3,526.8 952.0,520.9 954.7,526.1 957.4,529.1 960.8,526.6 964.2,523.0 967.5,528.4 969.6,520.9 972.3,537.9 976.4,526.4 979.4,523.6 982.4,522.3 985.8,538.5 989.9,525.0 992.6,540.6 995.3,515.5 998.0,533.1 1000.7,527.8 1003.4,524.3 1007.5,532.4 1010.2,526.2 1012.9,521.6 1015.6,525.0 1018.3,526.4 1022.4,531.8 1025.1,528.1 1027.8,523.0 1030.5,523.9 1033.2,526.4 1035.3,522.3 1040.0,525.0 1042.0,540.6 1045.4,523.6 1048.1,523.7 1050.8,522.3 1053.5,529.1 1056.2,531.9 1058.9,532.4 1061.7,530.4 1064.4,527.7 1067.1,539.9 1070.4,534.1 1073.8,529.1 1076.5,532.6 1079.3,535.8 1083.3,533.1 1087.4,541.9 1091.4,531.1 1094.2,530.4 1096.9,539.7 1099.6,550.7 1103.6,549.4 1106.7,536.6 1110.0,537.5 1113.3,540.7 1118.3,536.6 1121.6,544.9 1126.6,538.2 1130.0,547.4 1133.3,534.1 1137.0,544.8 1140.8,553.2 1143.7,549.4 1146.6,544.9 1150.8,549.1 1153.7,545.4 1156.6,541.6 1160.3,548.4 1164.1,553.2 1167.8,541.0 1171.6,529.1 1176.6,553.2 1181.6,527.4 1185.8,543.2 1189.9,528.3 1194.1,530.7 1198.3,520.8 1203.2,526.6 1206.5,526.4 1209.9,525.2 1213.2,523.3 1216.6,524.9 1220.7,507.4 1223.7,512.6 1226.6,519.1 1231.6,501.6 1234.9,501.9 1238.2,503.3 1242.4,501.6 1246.5,491.6 1249.8,493.6 1253.2,496.6 1256.5,494.1 1260.7,501.6 1264.9,489.1 1269.9,494.9 1274.0,478.3 1276.8,479.9 1279.5,483.0 1282.3,485.0 1285.7,474.1 1290.0,475.7 1293.8,478.2 1296.3,463.7 1299.5,463.7 1303.0,473.6 1306.5,484.6 1307.7,460.5 1312.2,461.8 1314.1,477.6 1317.2,470.6 1322.3,476.3 1326.7,468.7 1329.9,456.1 1333.0,473.8 1337.5,458.0 1340.0,474.4 1343.8,465.6 1346.7,468.3 1349.5,471.3 1353.3,461.8 1358.4,454.2 1361.6,459.0 1364.7,465.6 1367.8,464.0 1371.0,460.5 1373.6,455.5 1377.4,458.0 1379.3,451.0 1383.7,451.7 1387.5,459.3 1390.7,454.8 1393.8,451.0 1398.9,461.1 1401.8,453.7 1404.6,446.6 1409.0,453.6 1414.1,444.7 1417.9,454.2 1421.3,449.7 1424.8,444.7 1428.6,461.1 1432.4,452.3 1436.9,459.3 1440.7,452.9 1443.2,460.5 1445.1,442.2 1449.5,446.6 1454.6,448.5 1457.4,446.0 1460.3,441.5 1464.7,449.8 1467.3,443.4 1470.4,444.8 1473.6,446.6 1475.0,446.0" fill="none" stroke="#0000ff" stroke-width="7.0" stroke-linejoin="bevel" stroke-miterlimit="2" stroke-linecap="butt"/>
</g>
<line x1="518.6" y1="371.6" x2="491.7" y2="371.6" stroke="#000" stroke-width="2.6"/>
<polygon points="480.5,371.6 494.5,366.1 494.5,377.1" fill="#000"/>
<line x1="613.7" y1="371.6" x2="642.6999999999999" y2="371.6" stroke="#000" stroke-width="2.6"/>
<polygon points="653.9,371.6 639.9,366.1 639.9,377.1" fill="#000"/>
<line x1="1157.5" y1="475" x2="1157.5" y2="461.59999999999997" stroke="#000" stroke-width="2.6"/>
<polygon points="1157.5,449.2 1152.9,464.7 1162.1,464.7" fill="#000"/>
<line x1="1157.5" y1="510.8" x2="1157.5" y2="525.0" stroke="#000" stroke-width="2.6"/>
<polygon points="1157.5,537.4 1152.9,521.9 1162.1,521.9" fill="#000"/>
<rect x="119.2" y="2.3" width="741.5999999999999" height="744.9000000000001" fill="none" stroke="#333" stroke-width="1.8"/>
<line x1="119.20" y1="747.20" x2="119.20" y2="730.20" stroke="#333" stroke-width="1.8"/>
<line x1="119.20" y1="2.30" x2="119.20" y2="19.30" stroke="#333" stroke-width="1.8"/>
<line x1="152.93" y1="747.20" x2="152.93" y2="737.70" stroke="#333" stroke-width="1.8"/>
<line x1="152.93" y1="2.30" x2="152.93" y2="11.80" stroke="#333" stroke-width="1.8"/>
<line x1="186.66" y1="747.20" x2="186.66" y2="737.70" stroke="#333" stroke-width="1.8"/>
<line x1="186.66" y1="2.30" x2="186.66" y2="11.80" stroke="#333" stroke-width="1.8"/>
<line x1="220.39" y1="747.20" x2="220.39" y2="737.70" stroke="#333" stroke-width="1.8"/>
<line x1="220.39" y1="2.30" x2="220.39" y2="11.80" stroke="#333" stroke-width="1.8"/>
<line x1="254.12" y1="747.20" x2="254.12" y2="737.70" stroke="#333" stroke-width="1.8"/>
<line x1="254.12" y1="2.30" x2="254.12" y2="11.80" stroke="#333" stroke-width="1.8"/>
<line x1="287.85" y1="747.20" x2="287.85" y2="730.20" stroke="#333" stroke-width="1.8"/>
<line x1="287.85" y1="2.30" x2="287.85" y2="19.30" stroke="#333" stroke-width="1.8"/>
<line x1="321.58" y1="747.20" x2="321.58" y2="737.70" stroke="#333" stroke-width="1.8"/>
<line x1="321.58" y1="2.30" x2="321.58" y2="11.80" stroke="#333" stroke-width="1.8"/>
<line x1="355.31" y1="747.20" x2="355.31" y2="737.70" stroke="#333" stroke-width="1.8"/>
<line x1="355.31" y1="2.30" x2="355.31" y2="11.80" stroke="#333" stroke-width="1.8"/>
<line x1="389.04" y1="747.20" x2="389.04" y2="737.70" stroke="#333" stroke-width="1.8"/>
<line x1="389.04" y1="2.30" x2="389.04" y2="11.80" stroke="#333" stroke-width="1.8"/>
<line x1="422.77" y1="747.20" x2="422.77" y2="737.70" stroke="#333" stroke-width="1.8"/>
<line x1="422.77" y1="2.30" x2="422.77" y2="11.80" stroke="#333" stroke-width="1.8"/>
<line x1="456.50" y1="747.20" x2="456.50" y2="730.20" stroke="#333" stroke-width="1.8"/>
<line x1="456.50" y1="2.30" x2="456.50" y2="19.30" stroke="#333" stroke-width="1.8"/>
<line x1="490.23" y1="747.20" x2="490.23" y2="737.70" stroke="#333" stroke-width="1.8"/>
<line x1="490.23" y1="2.30" x2="490.23" y2="11.80" stroke="#333" stroke-width="1.8"/>
<line x1="523.96" y1="747.20" x2="523.96" y2="737.70" stroke="#333" stroke-width="1.8"/>
<line x1="523.96" y1="2.30" x2="523.96" y2="11.80" stroke="#333" stroke-width="1.8"/>
<line x1="557.69" y1="747.20" x2="557.69" y2="737.70" stroke="#333" stroke-width="1.8"/>
<line x1="557.69" y1="2.30" x2="557.69" y2="11.80" stroke="#333" stroke-width="1.8"/>
<line x1="591.42" y1="747.20" x2="591.42" y2="737.70" stroke="#333" stroke-width="1.8"/>
<line x1="591.42" y1="2.30" x2="591.42" y2="11.80" stroke="#333" stroke-width="1.8"/>
<line x1="625.15" y1="747.20" x2="625.15" y2="730.20" stroke="#333" stroke-width="1.8"/>
<line x1="625.15" y1="2.30" x2="625.15" y2="19.30" stroke="#333" stroke-width="1.8"/>
<line x1="658.88" y1="747.20" x2="658.88" y2="737.70" stroke="#333" stroke-width="1.8"/>
<line x1="658.88" y1="2.30" x2="658.88" y2="11.80" stroke="#333" stroke-width="1.8"/>
<line x1="692.61" y1="747.20" x2="692.61" y2="737.70" stroke="#333" stroke-width="1.8"/>
<line x1="692.61" y1="2.30" x2="692.61" y2="11.80" stroke="#333" stroke-width="1.8"/>
<line x1="726.34" y1="747.20" x2="726.34" y2="737.70" stroke="#333" stroke-width="1.8"/>
<line x1="726.34" y1="2.30" x2="726.34" y2="11.80" stroke="#333" stroke-width="1.8"/>
<line x1="760.07" y1="747.20" x2="760.07" y2="737.70" stroke="#333" stroke-width="1.8"/>
<line x1="760.07" y1="2.30" x2="760.07" y2="11.80" stroke="#333" stroke-width="1.8"/>
<line x1="793.80" y1="747.20" x2="793.80" y2="730.20" stroke="#333" stroke-width="1.8"/>
<line x1="793.80" y1="2.30" x2="793.80" y2="19.30" stroke="#333" stroke-width="1.8"/>
<line x1="827.53" y1="747.20" x2="827.53" y2="737.70" stroke="#333" stroke-width="1.8"/>
<line x1="827.53" y1="2.30" x2="827.53" y2="11.80" stroke="#333" stroke-width="1.8"/>
<line x1="861.26" y1="747.20" x2="861.26" y2="737.70" stroke="#333" stroke-width="1.8"/>
<line x1="861.26" y1="2.30" x2="861.26" y2="11.80" stroke="#333" stroke-width="1.8"/>
<line x1="119.20" y1="647.70" x2="136.20" y2="647.70" stroke="#333" stroke-width="1.8"/>
<line x1="860.80" y1="647.70" x2="843.80" y2="647.70" stroke="#333" stroke-width="1.8"/>
<line x1="119.20" y1="548.50" x2="132.20" y2="548.50" stroke="#333" stroke-width="1.8"/>
<line x1="860.80" y1="548.50" x2="847.80" y2="548.50" stroke="#333" stroke-width="1.8"/>
<line x1="119.20" y1="449.30" x2="136.20" y2="449.30" stroke="#333" stroke-width="1.8"/>
<line x1="860.80" y1="449.30" x2="843.80" y2="449.30" stroke="#333" stroke-width="1.8"/>
<line x1="119.20" y1="350.10" x2="132.20" y2="350.10" stroke="#333" stroke-width="1.8"/>
<line x1="860.80" y1="350.10" x2="847.80" y2="350.10" stroke="#333" stroke-width="1.8"/>
<line x1="119.20" y1="250.90" x2="136.20" y2="250.90" stroke="#333" stroke-width="1.8"/>
<line x1="860.80" y1="250.90" x2="843.80" y2="250.90" stroke="#333" stroke-width="1.8"/>
<line x1="119.20" y1="151.70" x2="132.20" y2="151.70" stroke="#333" stroke-width="1.8"/>
<line x1="860.80" y1="151.70" x2="847.80" y2="151.70" stroke="#333" stroke-width="1.8"/>
<line x1="119.20" y1="52.50" x2="136.20" y2="52.50" stroke="#333" stroke-width="1.8"/>
<line x1="860.80" y1="52.50" x2="843.80" y2="52.50" stroke="#333" stroke-width="1.8"/>
<rect x="915.2" y="0.8" width="559.3999999999999" height="746.7" fill="none" stroke="#333" stroke-width="1.8"/>
<line x1="931.09" y1="747.50" x2="931.09" y2="740.50" stroke="#333" stroke-width="1.8"/>
<line x1="931.09" y1="0.80" x2="931.09" y2="7.80" stroke="#333" stroke-width="1.8"/>
<line x1="947.07" y1="747.50" x2="947.07" y2="740.50" stroke="#333" stroke-width="1.8"/>
<line x1="947.07" y1="0.80" x2="947.07" y2="7.80" stroke="#333" stroke-width="1.8"/>
<line x1="963.06" y1="747.50" x2="963.06" y2="740.50" stroke="#333" stroke-width="1.8"/>
<line x1="963.06" y1="0.80" x2="963.06" y2="7.80" stroke="#333" stroke-width="1.8"/>
<line x1="979.04" y1="747.50" x2="979.04" y2="740.50" stroke="#333" stroke-width="1.8"/>
<line x1="979.04" y1="0.80" x2="979.04" y2="7.80" stroke="#333" stroke-width="1.8"/>
<line x1="995.03" y1="747.50" x2="995.03" y2="737.50" stroke="#333" stroke-width="1.8"/>
<line x1="995.03" y1="0.80" x2="995.03" y2="10.80" stroke="#333" stroke-width="1.8"/>
<line x1="1011.02" y1="747.50" x2="1011.02" y2="740.50" stroke="#333" stroke-width="1.8"/>
<line x1="1011.02" y1="0.80" x2="1011.02" y2="7.80" stroke="#333" stroke-width="1.8"/>
<line x1="1027.00" y1="747.50" x2="1027.00" y2="740.50" stroke="#333" stroke-width="1.8"/>
<line x1="1027.00" y1="0.80" x2="1027.00" y2="7.80" stroke="#333" stroke-width="1.8"/>
<line x1="1042.99" y1="747.50" x2="1042.99" y2="740.50" stroke="#333" stroke-width="1.8"/>
<line x1="1042.99" y1="0.80" x2="1042.99" y2="7.80" stroke="#333" stroke-width="1.8"/>
<line x1="1058.97" y1="747.50" x2="1058.97" y2="740.50" stroke="#333" stroke-width="1.8"/>
<line x1="1058.97" y1="0.80" x2="1058.97" y2="7.80" stroke="#333" stroke-width="1.8"/>
<line x1="1074.96" y1="747.50" x2="1074.96" y2="733.50" stroke="#333" stroke-width="1.8"/>
<line x1="1074.96" y1="0.80" x2="1074.96" y2="14.80" stroke="#333" stroke-width="1.8"/>
<line x1="1090.95" y1="747.50" x2="1090.95" y2="740.50" stroke="#333" stroke-width="1.8"/>
<line x1="1090.95" y1="0.80" x2="1090.95" y2="7.80" stroke="#333" stroke-width="1.8"/>
<line x1="1106.93" y1="747.50" x2="1106.93" y2="740.50" stroke="#333" stroke-width="1.8"/>
<line x1="1106.93" y1="0.80" x2="1106.93" y2="7.80" stroke="#333" stroke-width="1.8"/>
<line x1="1122.92" y1="747.50" x2="1122.92" y2="740.50" stroke="#333" stroke-width="1.8"/>
<line x1="1122.92" y1="0.80" x2="1122.92" y2="7.80" stroke="#333" stroke-width="1.8"/>
<line x1="1138.90" y1="747.50" x2="1138.90" y2="740.50" stroke="#333" stroke-width="1.8"/>
<line x1="1138.90" y1="0.80" x2="1138.90" y2="7.80" stroke="#333" stroke-width="1.8"/>
<line x1="1154.89" y1="747.50" x2="1154.89" y2="737.50" stroke="#333" stroke-width="1.8"/>
<line x1="1154.89" y1="0.80" x2="1154.89" y2="10.80" stroke="#333" stroke-width="1.8"/>
<line x1="1170.88" y1="747.50" x2="1170.88" y2="740.50" stroke="#333" stroke-width="1.8"/>
<line x1="1170.88" y1="0.80" x2="1170.88" y2="7.80" stroke="#333" stroke-width="1.8"/>
<line x1="1186.86" y1="747.50" x2="1186.86" y2="740.50" stroke="#333" stroke-width="1.8"/>
<line x1="1186.86" y1="0.80" x2="1186.86" y2="7.80" stroke="#333" stroke-width="1.8"/>
<line x1="1202.85" y1="747.50" x2="1202.85" y2="740.50" stroke="#333" stroke-width="1.8"/>
<line x1="1202.85" y1="0.80" x2="1202.85" y2="7.80" stroke="#333" stroke-width="1.8"/>
<line x1="1218.83" y1="747.50" x2="1218.83" y2="740.50" stroke="#333" stroke-width="1.8"/>
<line x1="1218.83" y1="0.80" x2="1218.83" y2="7.80" stroke="#333" stroke-width="1.8"/>
<line x1="1234.82" y1="747.50" x2="1234.82" y2="733.50" stroke="#333" stroke-width="1.8"/>
<line x1="1234.82" y1="0.80" x2="1234.82" y2="14.80" stroke="#333" stroke-width="1.8"/>
<line x1="1250.81" y1="747.50" x2="1250.81" y2="740.50" stroke="#333" stroke-width="1.8"/>
<line x1="1250.81" y1="0.80" x2="1250.81" y2="7.80" stroke="#333" stroke-width="1.8"/>
<line x1="1266.79" y1="747.50" x2="1266.79" y2="740.50" stroke="#333" stroke-width="1.8"/>
<line x1="1266.79" y1="0.80" x2="1266.79" y2="7.80" stroke="#333" stroke-width="1.8"/>
<line x1="1282.78" y1="747.50" x2="1282.78" y2="740.50" stroke="#333" stroke-width="1.8"/>
<line x1="1282.78" y1="0.80" x2="1282.78" y2="7.80" stroke="#333" stroke-width="1.8"/>
<line x1="1298.76" y1="747.50" x2="1298.76" y2="740.50" stroke="#333" stroke-width="1.8"/>
<line x1="1298.76" y1="0.80" x2="1298.76" y2="7.80" stroke="#333" stroke-width="1.8"/>
<line x1="1314.75" y1="747.50" x2="1314.75" y2="737.50" stroke="#333" stroke-width="1.8"/>
<line x1="1314.75" y1="0.80" x2="1314.75" y2="10.80" stroke="#333" stroke-width="1.8"/>
<line x1="1330.74" y1="747.50" x2="1330.74" y2="740.50" stroke="#333" stroke-width="1.8"/>
<line x1="1330.74" y1="0.80" x2="1330.74" y2="7.80" stroke="#333" stroke-width="1.8"/>
<line x1="1346.72" y1="747.50" x2="1346.72" y2="740.50" stroke="#333" stroke-width="1.8"/>
<line x1="1346.72" y1="0.80" x2="1346.72" y2="7.80" stroke="#333" stroke-width="1.8"/>
<line x1="1362.71" y1="747.50" x2="1362.71" y2="740.50" stroke="#333" stroke-width="1.8"/>
<line x1="1362.71" y1="0.80" x2="1362.71" y2="7.80" stroke="#333" stroke-width="1.8"/>
<line x1="1378.69" y1="747.50" x2="1378.69" y2="740.50" stroke="#333" stroke-width="1.8"/>
<line x1="1378.69" y1="0.80" x2="1378.69" y2="7.80" stroke="#333" stroke-width="1.8"/>
<line x1="1394.68" y1="747.50" x2="1394.68" y2="733.50" stroke="#333" stroke-width="1.8"/>
<line x1="1394.68" y1="0.80" x2="1394.68" y2="14.80" stroke="#333" stroke-width="1.8"/>
<line x1="1410.67" y1="747.50" x2="1410.67" y2="740.50" stroke="#333" stroke-width="1.8"/>
<line x1="1410.67" y1="0.80" x2="1410.67" y2="7.80" stroke="#333" stroke-width="1.8"/>
<line x1="1426.65" y1="747.50" x2="1426.65" y2="740.50" stroke="#333" stroke-width="1.8"/>
<line x1="1426.65" y1="0.80" x2="1426.65" y2="7.80" stroke="#333" stroke-width="1.8"/>
<line x1="1442.64" y1="747.50" x2="1442.64" y2="740.50" stroke="#333" stroke-width="1.8"/>
<line x1="1442.64" y1="0.80" x2="1442.64" y2="7.80" stroke="#333" stroke-width="1.8"/>
<line x1="1458.62" y1="747.50" x2="1458.62" y2="740.50" stroke="#333" stroke-width="1.8"/>
<line x1="1458.62" y1="0.80" x2="1458.62" y2="7.80" stroke="#333" stroke-width="1.8"/>
<line x1="915.20" y1="50.40" x2="928.80" y2="50.40" stroke="#333" stroke-width="1.8"/>
<line x1="1474.60" y1="50.40" x2="1461.00" y2="50.40" stroke="#333" stroke-width="1.8"/>
<line x1="915.20" y1="150.02" x2="928.80" y2="150.02" stroke="#333" stroke-width="1.8"/>
<line x1="1474.60" y1="150.02" x2="1461.00" y2="150.02" stroke="#333" stroke-width="1.8"/>
<line x1="915.20" y1="249.64" x2="928.80" y2="249.64" stroke="#333" stroke-width="1.8"/>
<line x1="1474.60" y1="249.64" x2="1461.00" y2="249.64" stroke="#333" stroke-width="1.8"/>
<line x1="915.20" y1="349.26" x2="928.80" y2="349.26" stroke="#333" stroke-width="1.8"/>
<line x1="1474.60" y1="349.26" x2="1461.00" y2="349.26" stroke="#333" stroke-width="1.8"/>
<line x1="915.20" y1="448.88" x2="928.80" y2="448.88" stroke="#333" stroke-width="1.8"/>
<line x1="1474.60" y1="448.88" x2="1461.00" y2="448.88" stroke="#333" stroke-width="1.8"/>
<line x1="915.20" y1="548.50" x2="928.80" y2="548.50" stroke="#333" stroke-width="1.8"/>
<line x1="1474.60" y1="548.50" x2="1461.00" y2="548.50" stroke="#333" stroke-width="1.8"/>
<line x1="915.20" y1="648.12" x2="928.80" y2="648.12" stroke="#333" stroke-width="1.8"/>
<line x1="1474.60" y1="648.12" x2="1461.00" y2="648.12" stroke="#333" stroke-width="1.8"/>
<text id="t_a" transform="translate(40.42,36.44) scale(0.8964,0.9928)" x="0" y="0" font-size="40" text-anchor="start" font-weight="bold" font-style="normal" fill="#000">a</text>
<text id="t_b" transform="translate(880.16,36.89) scale(1.0121,0.9633)" x="0" y="0" font-size="40" text-anchor="start" font-weight="bold" font-style="normal" fill="#000">b</text>
<text id="t_8x10" transform="translate(-0.73,73.79) scale(0.9663,1.0403)" x="0" y="0" font-size="37.6" text-anchor="start" font-weight="normal" font-style="normal" fill="#000">8 x10</text>
<text id="t_m3" transform="translate(88.09,48.29) scale(0.9915,1.0471)" x="0" y="0" font-size="26" text-anchor="start" font-weight="normal" font-style="normal" fill="#000">-3</text>
<text id="t_th0" transform="translate(141.94,54.00) scale(0.9759,1.0321)" x="0" y="0" font-size="39" text-anchor="start" font-weight="normal" font-style="normal" fill="#000"><tspan font-style="italic">θ</tspan> = 0°</text>
<text id="t_Ta" transform="translate(667.25,54.47) scale(0.9834,1.1041)" x="0" y="0" font-size="39" text-anchor="start" font-weight="normal" font-style="normal" fill="#000"><tspan font-style="italic">T</tspan> = 1.6 K</text>
<text id="t_th90" transform="translate(941.36,54.00) scale(0.9718,1.0048)" x="0" y="0" font-size="39" text-anchor="start" font-weight="normal" font-style="normal" fill="#000"><tspan font-style="italic">θ</tspan> = 90°</text>
<text id="t_Tb" transform="translate(1291.26,54.10) scale(0.9821,1.0370)" x="0" y="0" font-size="39" text-anchor="start" font-weight="normal" font-style="normal" fill="#000"><tspan font-style="italic">T</tspan> = 1.6 K</text>
<text id="t_Ha1" transform="translate(177.01,103.48) scale(0.9862,1.0370)" x="0" y="0" font-size="38.5" text-anchor="start" font-weight="bold" font-style="italic" fill="#00f000">H</text>
<text id="t_Ha2" transform="translate(191.19,537.08) scale(1.0627,1.0904)" x="0" y="0" font-size="38.5" text-anchor="start" font-weight="bold" font-style="italic" fill="#00f000">H</text>
<text id="t_Hb1" transform="translate(993.66,230.47) scale(1.0641,1.0599)" x="0" y="0" font-size="38.5" text-anchor="start" font-weight="bold" font-style="italic" fill="#00f000">H</text>
<text id="t_Hb2" transform="translate(993.17,579.39) scale(1.0086,1.0158)" x="0" y="0" font-size="38.5" text-anchor="start" font-weight="bold" font-style="italic" fill="#00f000">H</text>
<text id="t_ua1" transform="translate(342.05,133.17) scale(1.0115,1.0262)" x="0" y="0" font-size="44" text-anchor="start" font-weight="bold" font-style="normal" fill="#000">u</text>
<text id="t_ua2" transform="translate(354.01,695.60) scale(1.0330,0.9726)" x="0" y="0" font-size="39" text-anchor="start" font-weight="bold" font-style="normal" fill="#000">u</text>
<text id="t_ub1" transform="translate(1141.10,244.12) scale(0.9907,0.9915)" x="0" y="0" font-size="39" text-anchor="start" font-weight="bold" font-style="normal" fill="#000">u</text>
<text id="t_ub2" transform="translate(1102.41,717.11) scale(0.9907,1.0582)" x="0" y="0" font-size="39" text-anchor="start" font-weight="bold" font-style="normal" fill="#000">u</text>
<text id="t_ord" transform="translate(236.90,504.38) scale(0.9935,0.9963)" x="0" y="0" font-size="38" text-anchor="start" font-weight="normal" font-style="normal" fill="#000">ordinary</text>
<text id="t_SC" transform="translate(278.21,551.66) scale(1.0354,1.0979)" x="0" y="0" font-size="38" text-anchor="start" font-weight="normal" font-style="normal" fill="#000">SC</text>
<text id="t_FFLO" transform="translate(491.42,542.82) scale(1.0177,1.0384)" x="0" y="0" font-size="38" text-anchor="start" font-weight="normal" font-style="normal" fill="#000">FFLO</text>
<text id="t_Norm" transform="translate(708.34,543.68) scale(1.0172,0.9795)" x="0" y="0" font-size="38" text-anchor="start" font-weight="normal" font-style="normal" fill="#000">Normal</text>
<text id="t_fflos" transform="translate(526.32,382.82) scale(0.9873,1.0737)" x="0" y="0" font-size="32" text-anchor="start" font-weight="normal" font-style="normal" fill="#000">FFLO</text>
<text id="t_Hc" transform="translate(1135.07,498.95) scale(1.1022,1.0993)" x="0" y="0" font-size="29.6" text-anchor="start" font-weight="normal" font-style="italic" fill="#000">H</text>
<text id="t_c2" transform="translate(1155.28,506.38) scale(1.1928,1.0349)" x="0" y="0" font-size="19" text-anchor="start" font-weight="normal" font-style="normal" fill="#000">c2</text>
<text id="t_mua" transform="translate(430.39,831.39) scale(1.0253,0.9566)" x="0" y="0" font-size="37.6" text-anchor="start" font-weight="normal" font-style="italic" fill="#000">μ</text>
<text id="t_0a" transform="translate(452.23,839.81) scale(0.9684,1.0119)" x="0" y="0" font-size="26.5" text-anchor="start" font-weight="normal" font-style="normal" fill="#000">0</text>
<text id="t_Hxa" transform="translate(467.10,830.80) scale(1.0000,1.0014)" x="0" y="0" font-size="37.6" text-anchor="start" font-weight="normal" font-style="italic" fill="#000">H</text>
<text id="t_Ta2" transform="translate(502.14,830.93) scale(1.0189,0.9890)" x="0" y="0" font-size="37.6" text-anchor="start" font-weight="normal" font-style="normal" fill="#000">(T)</text>
<text id="t_mub" transform="translate(1134.93,832.69) scale(1.0253,0.9566)" x="0" y="0" font-size="37.6" text-anchor="start" font-weight="normal" font-style="italic" fill="#000">μ</text>
<text id="t_0b" transform="translate(1156.79,841.00) scale(0.9570,1.0238)" x="0" y="0" font-size="26.5" text-anchor="start" font-weight="normal" font-style="normal" fill="#000">0</text>
<text id="t_Hxb" transform="translate(1171.57,832.10) scale(0.9802,1.0081)" x="0" y="0" font-size="37.6" text-anchor="start" font-weight="normal" font-style="italic" fill="#000">H</text>
<text id="t_Tb2" transform="translate(1207.52,832.23) scale(1.0189,0.9890)" x="0" y="0" font-size="37.6" text-anchor="start" font-weight="normal" font-style="normal" fill="#000">(T)</text>
<text id="t_uca_u" transform="translate(133.54,286.12) scale(1.0056,1.0401)" x="0" y="0" font-size="39" text-anchor="start" font-weight="bold" font-style="normal" fill="#ff0000">u</text>
<text id="t_uca_p" transform="translate(164.18,285.97) scale(0.9932,1.0137)" x="0" y="0" font-size="39" text-anchor="start" font-weight="normal" font-style="normal" fill="#ff0000">||</text>
<text id="t_uca_c" transform="translate(192.44,286.11) scale(0.9964,1.0107)" x="0" y="0" font-size="39" text-anchor="start" font-weight="normal" font-style="italic" fill="#ff0000">c</text>
<text id="t_uba_u" transform="translate(133.60,463.56) scale(1.0000,0.9826)" x="0" y="0" font-size="39" text-anchor="start" font-weight="bold" font-style="normal" fill="#0000ff">u</text>
<text id="t_uba_p" transform="translate(164.14,463.15) scale(0.9932,1.0137)" x="0" y="0" font-size="39" text-anchor="start" font-weight="normal" font-style="normal" fill="#0000ff">||</text>
<text id="t_uba_b" transform="translate(192.46,463.62) scale(0.9841,0.9959)" x="0" y="0" font-size="39" text-anchor="start" font-weight="normal" font-style="italic" fill="#0000ff">b</text>
<text id="t_ucb_u" transform="translate(919.56,400.89) scale(1.0029,1.0107)" x="0" y="0" font-size="39" text-anchor="start" font-weight="bold" font-style="normal" fill="#ff0000">u</text>
<text id="t_ucb_p" transform="translate(949.62,400.22) scale(0.9991,0.9730)" x="0" y="0" font-size="39" text-anchor="start" font-weight="normal" font-style="normal" fill="#ff0000">||</text>
<text id="t_ucb_c" transform="translate(977.16,400.89) scale(1.0252,1.0107)" x="0" y="0" font-size="39" text-anchor="start" font-weight="normal" font-style="italic" fill="#ff0000">c</text>
<text id="t_ubb_u" transform="translate(921.22,501.71) scale(0.9289,0.9731)" x="0" y="0" font-size="39" text-anchor="start" font-weight="bold" font-style="normal" fill="#0000ff">u</text>
<text id="t_ubb_p" transform="translate(951.16,501.59) scale(0.9457,1.0022)" x="0" y="0" font-size="39" text-anchor="start" font-weight="normal" font-style="normal" fill="#0000ff">||</text>
<text id="t_ubb_b" transform="translate(978.92,501.69) scale(0.9923,0.9792)" x="0" y="0" font-size="39" text-anchor="start" font-weight="normal" font-style="italic" fill="#0000ff">b</text>
<text id="t_x10" transform="translate(100.19,790.60) scale(0.9628,1.0314)" x="0" y="0" font-size="37.6" text-anchor="start" font-weight="normal" font-style="normal" fill="#000">10</text>
<text id="t_y4" transform="translate(90.32,263.81) scale(0.9780,1.0161)" x="0" y="0" font-size="37.6" text-anchor="start" font-weight="normal" font-style="normal" fill="#000">4</text>
<text id="t_y0" transform="translate(90.21,463.20) scale(0.9713,1.0314)" x="0" y="0" font-size="37.6" text-anchor="start" font-weight="normal" font-style="normal" fill="#000">0</text>
<text id="t_ym4" transform="translate(77.04,661.00) scale(0.9814,1.0385)" x="0" y="0" font-size="37.6" text-anchor="start" font-weight="normal" font-style="normal" fill="#000">-4</text>
<text id="t_bx0" transform="translate(905.46,788.92) scale(0.9562,1.0314)" x="0" y="0" font-size="37.6" text-anchor="start" font-weight="normal" font-style="normal" fill="#000">0</text>
<text id="t_bx2" transform="translate(1063.95,788.92) scale(1.0734,1.0314)" x="0" y="0" font-size="37.6" text-anchor="start" font-weight="normal" font-style="normal" fill="#000">2</text>
<text id="x15" transform="translate(268.84,790.60) scale(0.9628,1.0314)" x="0" y="0" font-size="37.6" text-anchor="start" font-weight="normal" font-style="normal" fill="#000">15</text>
<text id="x20" transform="translate(437.49,790.60) scale(0.9628,1.0314)" x="0" y="0" font-size="37.6" text-anchor="start" font-weight="normal" font-style="normal" fill="#000">20</text>
<text id="x25" transform="translate(606.14,790.60) scale(0.9628,1.0314)" x="0" y="0" font-size="37.6" text-anchor="start" font-weight="normal" font-style="normal" fill="#000">25</text>
<text id="x30" transform="translate(774.79,790.60) scale(0.9628,1.0314)" x="0" y="0" font-size="37.6" text-anchor="start" font-weight="normal" font-style="normal" fill="#000">30</text>
<text id="bx4" transform="translate(1223.81,788.92) scale(1.0734,1.0314)" x="0" y="0" font-size="37.6" text-anchor="start" font-weight="normal" font-style="normal" fill="#000">4</text>
<text id="bx6" transform="translate(1383.67,788.92) scale(1.0734,1.0314)" x="0" y="0" font-size="37.6" text-anchor="start" font-weight="normal" font-style="normal" fill="#000">6</text>
<text id="ylabel" transform="translate(54.80,495.20) rotate(-90) scale(1.0000,1.0000)" font-size="37.6">Δ<tspan font-style="italic">v</tspan>/<tspan font-style="italic">v</tspan> (arb. unit)</text></svg>
</body></html>
